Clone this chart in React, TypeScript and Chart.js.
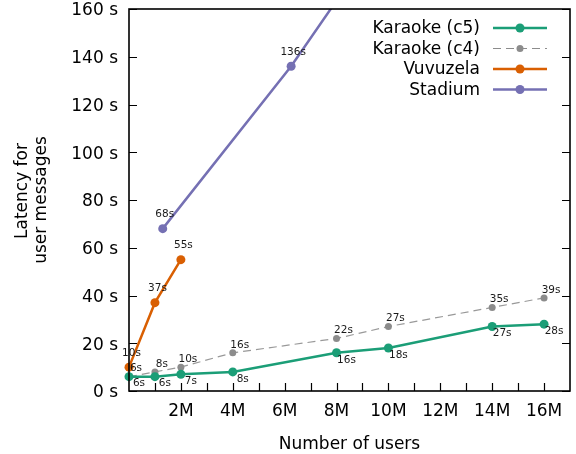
import React, { useEffect, useRef } from "react";
import { Chart, registerables } from "chart.js";

Chart.register(...registerables);

// Number of users (millions)
const karaokeUsers = [0, 1, 2, 4, 8, 10, 14, 16];
const karaokeC5 = [6, 6, 7, 8, 16, 18, 27, 28];
const karaokeC4 = [6, 8, 10, 16, 22, 27, 35, 39];
const vuvuzelaUsers = [0, 1, 2];
const vuvuzela = [10, 37, 55];
const stadiumUsers = [1.3, 6.25, 10];
const stadium = [68, 136, 195];

const yTickValues = [0, 20, 40, 60, 80, 100, 120, 140, 160];
const xTickValues = [1, 2, 3, 4, 5, 6, 7, 8, 9, 10, 11, 12, 13, 14, 15, 16];
const xLabelValues = [2, 4, 6, 8, 10, 12, 14, 16];

const seriesNames = ["Karaoke (c5)", "Karaoke (c4)", "Vuvuzela", "Stadium"];
const GREEN = "#1b9e77";
const GRAY = "#8c8c8c";
const ORANGE = "#d95f02";
const PURPLE = "#7570b3";
const FONT = "DejaVu Sans";

const toPts = (xs: number[], ys: number[]) => xs.map((x, i) => ({ x, y: ys[i] }));

// label offsets per dataset (dx, dy)
const labelOffsets = [
  [10, 7],
  [7, -8],
  [2.5, -14],
  [2, -14],
];

const customDraw = {
  id: "customDraw",
  afterDatasetsDraw(chart: any) {
    const { ctx } = chart;
    const xs = chart.scales.x;
    const ys = chart.scales.y;
    ctx.save();
    ctx.font = `10.5px "${FONT}"`;
    ctx.fillStyle = "#1a1a1a";
    ctx.textAlign = "center";
    ctx.textBaseline = "middle";
    chart.data.datasets.forEach((ds: any, di: number) => {
      ds.data.forEach((p: any) => {
        if (p.y > ys.max || p.x > xs.max) return;
        const px = xs.getPixelForValue(p.x);
        const py = ys.getPixelForValue(p.y);
        const [dx, dy] = labelOffsets[di];
        ctx.fillText(`${p.y}s`, px + dx, py + dy);
      });
    });
    ctx.restore();
  },
  afterDraw(chart: any) {
    const { ctx, chartArea } = chart;
    const xs = chart.scales.x;
    const ys = chart.scales.y;
    const { left, right, top, bottom } = chartArea;
    ctx.save();
    ctx.strokeStyle = "#000";
    ctx.lineWidth = 1.2;
    const tl = 8;
    ctx.beginPath();
    yTickValues.forEach((v) => {
      const py = Math.round(ys.getPixelForValue(v)) + 0.5;
      ctx.moveTo(left, py);
      ctx.lineTo(left + tl, py);
      ctx.moveTo(right, py);
      ctx.lineTo(right - tl, py);
    });
    xTickValues.forEach((v) => {
      const px = Math.round(xs.getPixelForValue(v)) + 0.5;
      ctx.moveTo(px, bottom);
      ctx.lineTo(px, bottom - tl);
    });
    ctx.stroke();
    ctx.lineWidth = 1.6;
    ctx.strokeRect(left, top, right - left, bottom - top);

    // legend
    const colors = [GREEN, GRAY, ORANGE, PURPLE];
    const rowsY = [28, 48.5, 69, 89.5];
    ctx.font = `17px "${FONT}"`;
    ctx.textAlign = "right";
    ctx.textBaseline = "middle";
    seriesNames.forEach((name, i) => {
      const y = rowsY[i];
      ctx.fillStyle = "#000";
      ctx.fillText(name, 480, y + 1);
      ctx.strokeStyle = colors[i];
      ctx.lineWidth = i === 1 ? 1.2 : 2.5;
      ctx.setLineDash(i === 1 ? [8, 5] : []);
      ctx.beginPath();
      ctx.moveTo(493, y);
      ctx.lineTo(547, y);
      ctx.stroke();
      ctx.setLineDash([]);
      ctx.fillStyle = colors[i];
      ctx.beginPath();
      ctx.arc(520, y, i === 1 ? 3.5 : 4.5, 0, Math.PI * 2);
      ctx.fill();
    });

    // axis titles
    ctx.fillStyle = "#000";
    ctx.font = `17px "${FONT}"`;
    ctx.textAlign = "center";
    ctx.textBaseline = "alphabetic";
    ctx.fillText("Number of users", (left + right) / 2, 449);

    ctx.save();
    ctx.translate(27, 191);
    ctx.rotate(-Math.PI / 2);
    ctx.fillText("Latency for", 0, 0);
    ctx.restore();
    ctx.save();
    ctx.translate(46, 200);
    ctx.rotate(-Math.PI / 2);
    ctx.fillText("user messages", 0, 0);
    ctx.restore();

    ctx.restore();
  },
};

export default function App() {
  const ref = useRef<HTMLCanvasElement | null>(null);
  useEffect(() => {
    if (!ref.current) return;
    const pointClip = { left: 10, right: 10, top: 0, bottom: 10 };
    const chart = new Chart(ref.current, {
      type: "line",
      data: {
        datasets: [
          {
            label: seriesNames[0],
            data: toPts(karaokeUsers, karaokeC5),
            borderColor: GREEN,
            backgroundColor: GREEN,
            borderWidth: 2.5,
            pointRadius: 4.5,
            pointBorderWidth: 0,
            clip: pointClip,
          },
          {
            label: seriesNames[1],
            data: toPts(karaokeUsers, karaokeC4),
            borderColor: "#999999",
            backgroundColor: GRAY,
            borderWidth: 1.2,
            borderDash: [8, 5],
            pointRadius: 3.5,
            pointBorderWidth: 0,
            clip: pointClip,
          },
          {
            label: seriesNames[2],
            data: toPts(vuvuzelaUsers, vuvuzela),
            borderColor: ORANGE,
            backgroundColor: ORANGE,
            borderWidth: 2.5,
            pointRadius: 4.5,
            pointBorderWidth: 0,
            clip: pointClip,
          },
          {
            label: seriesNames[3],
            data: toPts(stadiumUsers, stadium),
            borderColor: PURPLE,
            backgroundColor: PURPLE,
            borderWidth: 2.5,
            pointRadius: 4.5,
            pointBorderWidth: 0,
            clip: pointClip,
          },
        ],
      },
      options: {
        responsive: false,
        animation: false,
        events: [],
        layout: { padding: { top: 9, right: 6, left: 0, bottom: 0 } },
        plugins: { legend: { display: false }, tooltip: { enabled: false } },
        scales: {
          x: {
            type: "linear",
            min: 0,
            max: 17,
            grid: { display: false, drawTicks: false },
            border: { display: false },
            afterFit: (s: any) => {
              s.height = 63;
              s.paddingLeft = 0;
              s.paddingRight = 0;
            },
            afterBuildTicks: (s: any) => {
              s.ticks = xLabelValues.map((v) => ({ value: v }));
            },
            ticks: {
              autoSkip: false,
              maxRotation: 0,
              padding: 10,
              color: "#000",
              font: { family: FONT, size: 17 },
              callback: (v: any) => `${v}M`,
            },
          },
          y: {
            type: "linear",
            min: 0,
            max: 160,
            grid: { display: false, drawTicks: false },
            border: { display: false },
            afterFit: (s: any) => {
              s.width = 129;
              s.paddingTop = 0;
              s.paddingBottom = 0;
            },
            afterBuildTicks: (s: any) => {
              s.ticks = yTickValues.map((v) => ({ value: v }));
            },
            ticks: {
              padding: 11,
              labelOffset: 2,
              color: "#000",
              font: { family: FONT, size: 17 },
              callback: (v: any) => `${v} s`,
            },
          },
        },
      },
      plugins: [customDraw],
    });
    return () => chart.destroy();
  }, []);
  return (
    <div style={{ position: "absolute", left: 0, top: 0, width: 576, height: 454, background: "#fff" }}>
      <canvas ref={ref} width={576} height={454} />
    </div>
  );
}
